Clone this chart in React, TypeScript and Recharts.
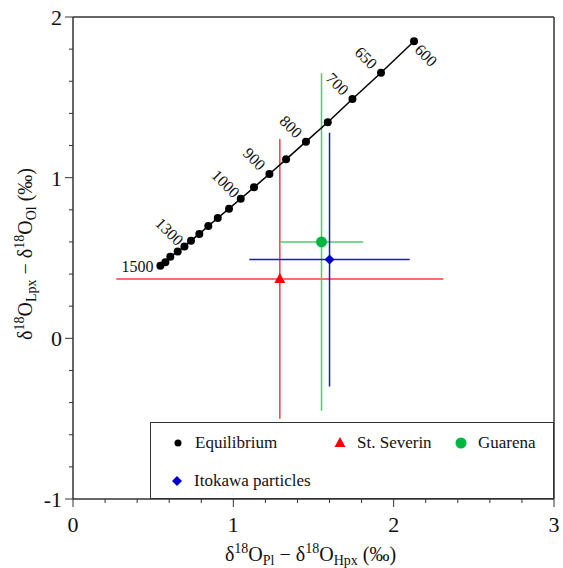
import { ScatterChart, Scatter, XAxis, YAxis, ErrorBar, ReferenceLine } from "recharts";

// equilibrium curve, temperature steps of 50
const temps = [1500, 1450, 1400, 1350, 1300, 1250, 1200, 1150, 1100, 1050, 1000, 950, 900, 850, 800, 750, 700, 650, 600];
const eqX = [0.545, 0.576, 0.607, 0.653, 0.695, 0.736, 0.788, 0.844, 0.903, 0.973, 1.046, 1.129, 1.225, 1.329, 1.453, 1.589, 1.743, 1.921, 2.127];
const eqY = [0.452, 0.473, 0.508, 0.54, 0.571, 0.608, 0.65, 0.699, 0.749, 0.807, 0.869, 0.94, 1.023, 1.114, 1.224, 1.345, 1.49, 1.653, 1.849];
const labeledTemps = [1500, 1300, 1000, 900, 800, 700, 650, 600];

const stSeverin = [{ x: 1.29, y: 0.37, ex: 1.02, ey: 0.87 }];
const guarena = [{ x: 1.55, y: 0.6, ex: 0.26, ey: 1.05 }];
const itokawa = [{ x: 1.6, y: 0.49, ex: 0.5, ey: 0.79 }];

const xTicks = [0, 0.2, 0.4, 0.6, 0.8, 1, 1.2, 1.4, 1.6, 1.8, 2, 2.2, 2.4, 2.6, 2.8, 3];
const yTicks = [-1, -0.8, -0.6, -0.4, -0.2, 0, 0.2, 0.4, 0.6, 0.8, 1, 1.2, 1.4, 1.6, 1.8, 2];

const equilibrium = temps.map((t, i) => ({ t, x: eqX[i], y: eqY[i] }));

const font = "'Liberation Serif', 'DejaVu Serif', 'Noto Serif', 'Times New Roman', Times, FreeSerif, serif";
const axisColor = "#333";

const isMajor = (v: number) => Math.abs(v - Math.round(v)) < 1e-6;

function XTick({ x, y, payload }: any) {
  const major = isMajor(payload.value);
  return (
    <g>
      <line x1={x} x2={x} y1={y} y2={y + (major ? 8 : 4)} stroke={axisColor} strokeWidth={1} />
      {major && (
        <text x={x} y={y + 33} textAnchor="middle" fontSize={22} fontFamily={font} fill="#111">
          {payload.value}
        </text>
      )}
    </g>
  );
}

function YTick({ x, y, payload }: any) {
  const major = isMajor(payload.value);
  return (
    <g>
      <line x1={x} x2={x - (major ? 8 : 4)} y1={y} y2={y} stroke={axisColor} strokeWidth={1} />
      {major && (
        <text x={x - 11} y={y + 8} textAnchor="end" fontSize={22} fontFamily={font} fill="#111">
          {payload.value}
        </text>
      )}
    </g>
  );
}

function EqPoint({ cx, cy, payload }: any) {
  const t = payload.t;
  let label = null;
  if (labeledTemps.includes(t)) {
    if (t === 1500) {
      label = (
        <text x={cx - 7} y={cy + 6} textAnchor="end" fontSize={16} fontFamily={font} fill="#111">
          {t}
        </text>
      );
    } else {
      const lx = t === 600 ? cx + 12 : cx - 15;
      const ly = t === 600 ? cy + 14 : cy - 15;
      label = (
        <text
          x={lx}
          y={ly}
          textAnchor="middle"
          dominantBaseline="central"
          fontSize={16}
          fontFamily={font}
          fill="#111"
          transform={`rotate(45 ${lx} ${ly})`}
        >
          {t}
        </text>
      );
    }
  }
  return (
    <g>
      <circle cx={cx} cy={cy} r={4} fill="#000" />
      {label}
    </g>
  );
}

const Triangle = ({ cx, cy }: any) => (
  <polygon points={`${cx},${cy - 6} ${cx - 5.5},${cy + 4} ${cx + 5.5},${cy + 4}`} fill="#ff0000" />
);
const Dot = ({ cx, cy }: any) => <circle cx={cx} cy={cy} r={5.5} fill="#00b640" />;
const Diamond = ({ cx, cy }: any) => (
  <polygon points={`${cx},${cy - 5} ${cx + 5},${cy} ${cx},${cy + 5} ${cx - 5},${cy}`} fill="#0000cc" />
);

function XLabel({ viewBox }: any) {
  const cx = viewBox.x + viewBox.width / 2 - 3;
  const y = viewBox.y + 62;
  return (
    <text x={cx} y={y} textAnchor="middle" fontSize={20} fontFamily={font} fill="#111">
      δ<tspan dy={-8} fontSize={14}>18</tspan>
      <tspan dy={8}>O</tspan>
      <tspan dy={4} fontSize={14}>Pl</tspan>
      <tspan dy={-4}> − δ</tspan>
      <tspan dy={-8} fontSize={14}>18</tspan>
      <tspan dy={8}>O</tspan>
      <tspan dy={4} fontSize={14}>Hpx</tspan>
      <tspan dy={-4}> (‰)</tspan>
    </text>
  );
}

function YLabel({ viewBox }: any) {
  const x = 32;
  const cy = viewBox.y + viewBox.height / 2 - 4;
  return (
    <text x={x} y={cy} textAnchor="middle" fontSize={20} fontFamily={font} fill="#111" transform={`rotate(-90 ${x} ${cy})`}>
      δ<tspan dy={-8} fontSize={14}>18</tspan>
      <tspan dy={8}>O</tspan>
      <tspan dy={4} fontSize={14}>Lpx</tspan>
      <tspan dy={-4}> − δ</tspan>
      <tspan dy={-8} fontSize={14}>18</tspan>
      <tspan dy={8}>O</tspan>
      <tspan dy={4} fontSize={14}>Ol</tspan>
      <tspan dy={-4}> (‰)</tspan>
    </text>
  );
}

const legendItems = [
  { name: "Equilibrium", left: 27, top: 20, marker: <circle cx={6} cy={6} r={3.5} fill="#000" /> },
  { name: "St. Severin", left: 189, top: 20, marker: <polygon points="6,0 0.5,10 11.5,10" fill="#ff0000" /> },
  { name: "Guarena", left: 310, top: 20, marker: <circle cx={6} cy={6} r={5.5} fill="#00b640" /> },
  { name: "Itokawa particles", left: 26, top: 58, marker: <polygon points="6,1 11,6 6,11 1,6" fill="#0000cc" /> },
];

export default function App() {
  return (
    <div style={{ position: "relative", width: 563, height: 568, background: "#fff", fontFamily: font }}>
      <style>{"body{margin:0}"}</style>
      <ScatterChart width={563} height={568} margin={{ top: 17, right: 9, bottom: 0, left: 0 }}>
        <XAxis
          type="number"
          dataKey="x"
          domain={[0, 3]}
          ticks={xTicks}
          interval={0}
          height={69}
          tickSize={0}
          tickMargin={0}
          tickLine={false}
          tick={<XTick />}
          axisLine={{ stroke: axisColor, strokeWidth: 1.5 }}
          label={<XLabel />}
        />
        <YAxis
          type="number"
          dataKey="y"
          domain={[-1, 2]}
          ticks={yTicks}
          interval={0}
          width={73}
          tickSize={0}
          tickMargin={0}
          tickLine={false}
          tick={<YTick />}
          axisLine={{ stroke: axisColor, strokeWidth: 1.5 }}
          label={<YLabel />}
        />
        <ReferenceLine y={2} stroke={axisColor} strokeWidth={1.5} />
        <ReferenceLine x={3} stroke={axisColor} strokeWidth={1.5} />
        <Scatter name="St. Severin" data={stSeverin} shape={<Triangle />} isAnimationActive={false}>
          <ErrorBar dataKey="ex" direction="x" width={0} stroke="#ff3b3b" strokeWidth={1.5} isAnimationActive={false} />
          <ErrorBar dataKey="ey" direction="y" width={0} stroke="#ff3b3b" strokeWidth={1.5} isAnimationActive={false} />
        </Scatter>
        <Scatter name="Guarena" data={guarena} shape={<Dot />} isAnimationActive={false}>
          <ErrorBar dataKey="ex" direction="x" width={0} stroke="#4ccc6c" strokeWidth={1.5} isAnimationActive={false} />
          <ErrorBar dataKey="ey" direction="y" width={0} stroke="#4ccc6c" strokeWidth={1.5} isAnimationActive={false} />
        </Scatter>
        <Scatter name="Itokawa particles" data={itokawa} shape={<Diamond />} isAnimationActive={false}>
          <ErrorBar dataKey="ex" direction="x" width={0} stroke="#1a1acc" strokeWidth={1.5} isAnimationActive={false} />
          <ErrorBar dataKey="ey" direction="y" width={0} stroke="#1a1acc" strokeWidth={1.5} isAnimationActive={false} />
        </Scatter>
        <Scatter
          name="Equilibrium"
          data={equilibrium}
          line={{ stroke: "#000", strokeWidth: 1.5 }}
          shape={<EqPoint />}
          isAnimationActive={false}
        />
      </ScatterChart>
      <div
        style={{
          position: "absolute",
          left: 150,
          top: 422,
          width: 404,
          height: 77,
          boxSizing: "border-box",
          border: `1.5px solid ${axisColor}`,
          background: "#fff",
          fontFamily: font,
          fontSize: 17,
          color: "#111",
        }}
      >
        {legendItems.map((it) => (
          <div key={it.name} style={{ position: "absolute", left: it.left - 6, top: it.top - 11, display: "flex", alignItems: "center", whiteSpace: "nowrap" }}>
            <svg width={12} height={12} style={{ marginRight: 11 }}>
              {it.marker}
            </svg>
            <span style={{ lineHeight: "22px" }}>{it.name}</span>
          </div>
        ))}
      </div>
    </div>
  );
}
